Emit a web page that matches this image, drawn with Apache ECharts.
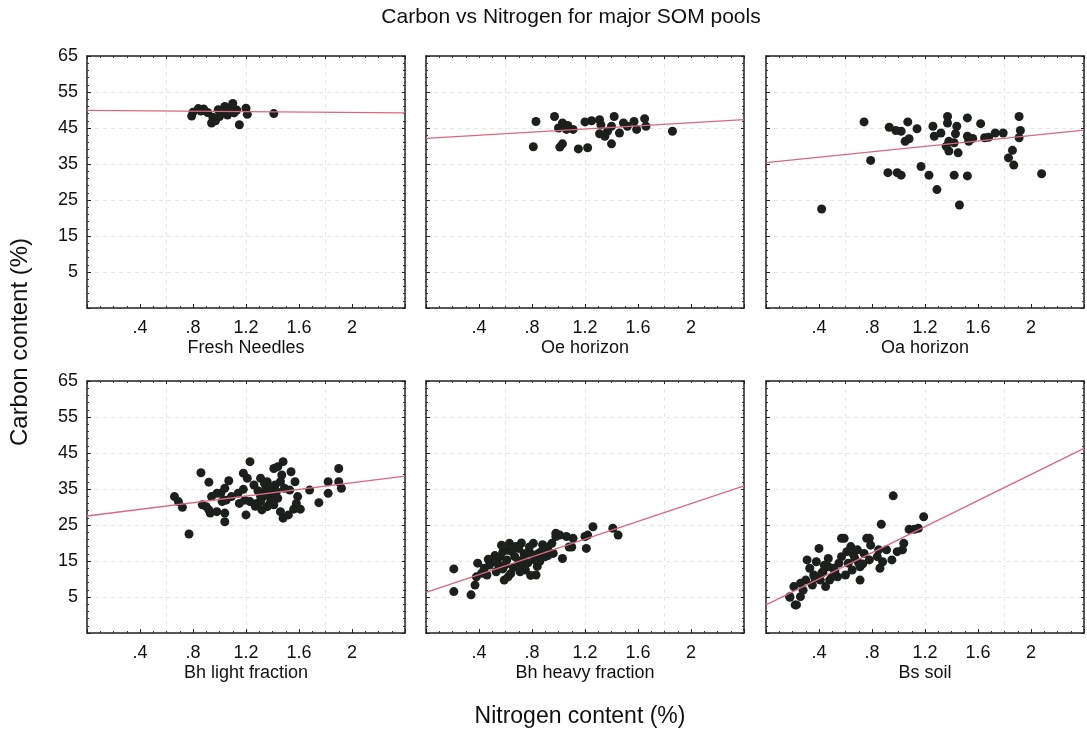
<!DOCTYPE html>
<html>
<head>
<meta charset="utf-8">
<script src="https://cdn.jsdelivr.net/npm/echarts@6/dist/echarts.min.js"></script>
<style>
  html, body { margin: 0; padding: 0; background: #ffffff; }
  #chart { width: 1087px; height: 730px; }
</style>
</head>
<body>
<div id="chart"></div>
<script>
// ---------- data ----------
const chartTitle = 'Carbon vs Nitrogen for major SOM pools';
const xTitle = 'Nitrogen content (%)';
const yTitle = 'Carbon content (%)';
const panelNames = ['Fresh Needles', 'Oe horizon', 'Oa horizon', 'Bh light fraction', 'Bh heavy fraction', 'Bs soil'];
const xTickLabels = ['', '.4', '.8', '1.2', '1.6', '2', ''];
const yTickLabels = ['', '5', '15', '25', '35', '45', '55', '65'];

const freshNeedles = [[0.79,48.3],[0.80,49.4],[0.84,50.4],[0.88,50.3],[0.91,49.3],[0.94,46.4],[0.97,47.0],[0.99,50.1],[1.00,48.2],[1.02,49.6],[1.04,51.0],[1.06,48.6],[1.08,50.4],[1.10,51.8],[1.11,49.2],[1.13,50.0],[1.15,45.9],[1.20,50.5],[1.21,48.8],[1.41,49.0],[1.05,49.8],[0.86,49.7],[0.95,48.0]];
const oeHorizon = [[0.83,46.8],[0.81,39.8],[0.97,48.2],[1.00,45.0],[1.03,46.4],[1.07,45.7],[1.11,44.6],[1.01,39.7],[1.03,40.6],[1.15,39.2],[1.22,39.5],[1.20,46.7],[1.25,47.0],[1.31,47.3],[1.32,45.9],[1.31,43.4],[1.37,44.1],[1.42,48.2],[1.40,45.5],[1.40,40.6],[1.46,43.6],[1.49,46.4],[1.52,45.5],[1.59,44.6],[1.57,46.8],[1.65,47.6],[1.66,45.5],[1.86,44.1],[1.35,42.7],[1.06,44.6]];
const oaHorizon = [[0.74,46.7],[0.79,36.0],[0.42,22.5],[0.93,45.2],[0.98,44.3],[1.02,44.1],[1.07,46.7],[1.14,44.8],[1.05,41.3],[1.08,42.0],[0.92,32.6],[0.99,32.6],[1.02,31.9],[1.17,34.3],[1.23,31.9],[1.29,27.9],[1.26,45.5],[1.27,42.7],[1.32,43.6],[1.37,48.2],[1.37,46.4],[1.38,41.3],[1.38,38.6],[1.45,38.1],[1.42,40.9],[1.44,45.5],[1.43,43.4],[1.52,47.8],[1.52,42.7],[1.53,41.3],[1.56,42.1],[1.62,46.2],[1.42,31.9],[1.52,31.7],[1.46,23.6],[1.65,42.3],[1.68,42.4],[1.73,43.6],[1.79,43.6],[1.86,38.8],[1.83,36.7],[1.87,34.7],[1.91,48.2],[1.92,44.3],[1.91,42.3],[2.08,32.3],[1.36,39.9]];
const bhLight = [[0.66,32.9],[0.69,31.5],[0.72,29.9],[0.77,22.5],[0.86,39.5],[0.92,36.9],[0.87,30.6],[0.90,30.1],[0.93,28.3],[0.94,32.9],[0.98,28.7],[1.01,33.8],[1.04,35.2],[1.07,37.3],[1.04,28.3],[1.04,25.9],[1.09,32.9],[1.14,33.8],[1.18,39.4],[1.21,38.0],[1.18,34.9],[1.19,31.9],[1.20,27.8],[1.23,42.6],[1.23,31.5],[1.26,36.1],[1.31,38.0],[1.31,31.5],[1.33,33.8],[1.32,29.2],[1.36,37.0],[1.37,35.2],[1.38,32.9],[1.38,31.0],[1.41,40.7],[1.42,36.1],[1.43,34.3],[1.44,32.4],[1.44,41.2],[1.47,38.9],[1.46,37.0],[1.48,42.6],[1.49,35.2],[1.46,28.7],[1.48,26.9],[1.53,34.7],[1.54,39.8],[1.52,27.8],[1.56,29.4],[1.57,37.0],[1.58,31.0],[1.59,32.9],[1.61,29.4],[1.68,34.7],[1.75,31.2],[1.82,33.8],[1.82,37.0],[1.90,40.7],[1.90,37.0],[1.92,35.2],[1.33,32.9],[1.28,31.0],[1.36,30.1],[1.41,30.6],[1.31,32.9],[1.39,34.3],[1.35,35.2],[0.98,33.8],[1.02,31.5],[0.92,29.2],[1.15,31.0],[1.05,31.9],[1.29,34.5],[1.34,36.5],[1.40,33.0],[1.27,30.2]];
const bhHeavy = [[0.21,12.8],[0.21,6.5],[0.34,5.6],[0.37,8.3],[0.39,14.4],[0.38,10.6],[0.42,11.6],[0.46,11.1],[0.48,13.9],[0.51,15.3],[0.53,12.0],[0.54,14.4],[0.56,16.2],[0.57,19.4],[0.58,17.6],[0.59,9.7],[0.62,10.6],[0.61,15.3],[0.63,19.9],[0.65,17.6],[0.67,16.2],[0.70,18.5],[0.71,12.0],[0.72,13.9],[0.73,15.3],[0.76,17.1],[0.78,18.9],[0.81,19.9],[0.82,15.3],[0.83,11.1],[0.85,17.1],[0.87,17.6],[0.90,16.2],[0.92,18.9],[0.95,19.9],[0.96,17.1],[0.98,21.8],[1.01,22.2],[1.03,15.7],[1.06,21.8],[1.10,18.9],[1.11,21.3],[1.20,21.8],[1.21,18.5],[1.22,22.2],[1.26,24.5],[1.41,24.1],[1.45,22.2],[0.98,22.7],[1.08,18.9],[0.52,16.5],[0.55,13.0],[0.60,14.0],[0.66,13.2],[0.68,19.0],[0.74,17.0],[0.77,14.5],[0.80,16.8],[0.84,13.5],[0.88,19.5],[0.62,18.0],[0.70,15.0],[0.58,12.8],[0.64,11.5],[0.72,20.0],[0.86,15.0],[0.92,16.5],[0.47,15.5],[0.44,13.0],[0.75,12.5],[0.79,11.0]];
const bsSoil = [[0.96,33.1],[0.87,25.2],[1.19,27.3],[1.08,23.8],[1.12,23.8],[1.15,24.1],[1.04,19.9],[1.03,18.1],[0.99,17.6],[0.95,15.3],[0.85,18.1],[0.86,13.0],[0.88,14.8],[0.78,21.3],[0.79,19.4],[0.74,17.1],[0.71,9.7],[0.70,14.4],[0.67,15.7],[0.64,19.0],[0.61,17.6],[0.57,21.3],[0.57,16.2],[0.55,14.4],[0.51,13.0],[0.47,13.4],[0.43,12.0],[0.40,18.5],[0.38,14.8],[0.31,15.3],[0.33,13.0],[0.36,11.1],[0.41,9.7],[0.35,8.3],[0.30,9.7],[0.28,6.9],[0.26,5.1],[0.23,2.8],[0.21,7.9],[0.18,5.1],[0.45,7.9],[0.48,9.7],[0.54,10.6],[0.60,11.1],[0.65,12.5],[0.71,13.4],[0.78,15.3],[0.59,21.3],[0.76,21.3],[0.69,18.1],[0.84,16.2],[0.91,18.1],[0.50,10.6],[0.42,11.6],[0.26,8.8],[0.62,14.4],[0.47,15.7],[0.18,4.9],[0.22,2.8],[0.52,12.2],[0.66,16.8],[0.73,14.2],[0.37,10.2],[0.44,13.8]];

const fitFresh = [[0, 49.9], [2.4, 49.2]];
const fitOe = [[0, 42.1], [2.4, 47.3]];
const fitOa = [[0, 35.4], [2.4, 44.4]];
const fitBhLight = [[0, 27.5], [2.4, 38.6]];
const fitBhHeavy = [[0, 6.3], [2.4, 35.9]];
const fitBs = [[0, 2.8], [2.4, 46.3]];

// ---------- chart ----------
const panelPoints = [freshNeedles, oeHorizon, oaHorizon, bhLight, bhHeavy, bsSoil];
const panelFits = [fitFresh, fitOe, fitOa, fitBhLight, fitBhHeavy, fitBs];

const FONT = "'Liberation Sans', Arial, Helvetica, sans-serif";
const lefts = [87, 426, 766];
const tops = [56, 381];
const W = 318, H = 252;

const grids = [], xAxes = [], yAxes = [], series = [];
const gridLineStyle = { color: '#e6e6e6', type: [4, 4], width: 1 };
const boxLine = { show: true, onZero: false, lineStyle: { color: '#222', width: 1.5 } };

for (let i = 0; i < 6; i++) {
  const col = i % 3, row = Math.floor(i / 3);
  grids.push({ left: lefts[col], top: tops[row], width: W, height: H, containLabel: false });
  xAxes.push({
    gridIndex: i, type: 'value', position: 'bottom', min: 0, max: 2.4, interval: 0.4,
    axisLine: boxLine,
    axisTick: { show: true, inside: true, length: 4, lineStyle: { color: '#222' } },
    minorTick: { show: true, splitNumber: 4, length: 2, lineStyle: { color: '#333' } },
    splitLine: { show: false },
    axisLabel: { show: true, margin: 11, color: '#111', fontSize: 18, fontFamily: FONT,
      formatter: v => { const k = Math.round(v / 0.4); return xTickLabels[k] || ''; } },
    name: panelNames[i], nameLocation: 'middle', nameGap: 31,
    nameTextStyle: { color: '#111', fontSize: 18, fontFamily: FONT }
  });
  xAxes.push({
    gridIndex: i, type: 'value', position: 'top', min: 0, max: 2.4, interval: 0.6,
    axisLine: boxLine,
    axisTick: { show: true, inside: true, length: 3, lineStyle: { color: '#222' } },
    minorTick: { show: true, splitNumber: 6, length: 2, lineStyle: { color: '#333' } },
    splitLine: { show: true, lineStyle: gridLineStyle },
    axisLabel: { show: false }
  });
  yAxes.push({
    gridIndex: i, type: 'value', position: 'left', min: -5, max: 65, interval: 10,
    axisLine: boxLine,
    axisTick: { show: true, inside: true, length: 4, lineStyle: { color: '#222' } },
    minorTick: { show: true, splitNumber: 5, length: 2, lineStyle: { color: '#333' } },
    splitLine: { show: true, lineStyle: gridLineStyle },
    axisLabel: { show: col === 0, margin: 9, color: '#111', fontSize: 18, fontFamily: FONT,
      formatter: v => { const k = Math.round((v + 5) / 10); return yTickLabels[k] || ''; } }
  });
  yAxes.push({
    gridIndex: i, type: 'value', position: 'right', min: -5, max: 65, interval: 10,
    axisLine: boxLine,
    axisTick: { show: true, inside: true, length: 3, lineStyle: { color: '#222' } },
    minorTick: { show: true, splitNumber: 5, length: 2, lineStyle: { color: '#333' } },
    splitLine: { show: false },
    axisLabel: { show: false }
  });
  series.push({
    type: 'scatter', xAxisIndex: 2 * i, yAxisIndex: 2 * i, data: panelPoints[i],
    symbol: 'circle', symbolSize: 9, z: 3,
    itemStyle: { color: '#1b201d', opacity: 1 }, silent: true
  });
  series.push({
    type: 'line', xAxisIndex: 2 * i, yAxisIndex: 2 * i, data: panelFits[i],
    showSymbol: false, symbol: 'none', z: 4, silent: true,
    lineStyle: { color: '#d9687e', width: 1.3 }
  });
}

const chart = echarts.init(document.getElementById('chart'), null, { renderer: 'canvas' });
chart.setOption({
  backgroundColor: '#ffffff',
  animation: false,
  grid: grids,
  xAxis: xAxes,
  yAxis: yAxes,
  series: series,
  graphic: [
    { type: 'text', x: 571, y: 17, style: { text: chartTitle, fill: '#111', font: '21px ' + FONT, textAlign: 'center', textVerticalAlign: 'middle' } },
    { type: 'text', x: 580, y: 717, style: { text: xTitle, fill: '#111', font: '23px ' + FONT, textAlign: 'center', textVerticalAlign: 'middle' } },
    { type: 'text', x: 20, y: 342, rotation: Math.PI / 2, style: { text: yTitle, fill: '#111', font: '24px ' + FONT, textAlign: 'center', textVerticalAlign: 'middle' } }
  ]
});
</script>
</body>
</html>
